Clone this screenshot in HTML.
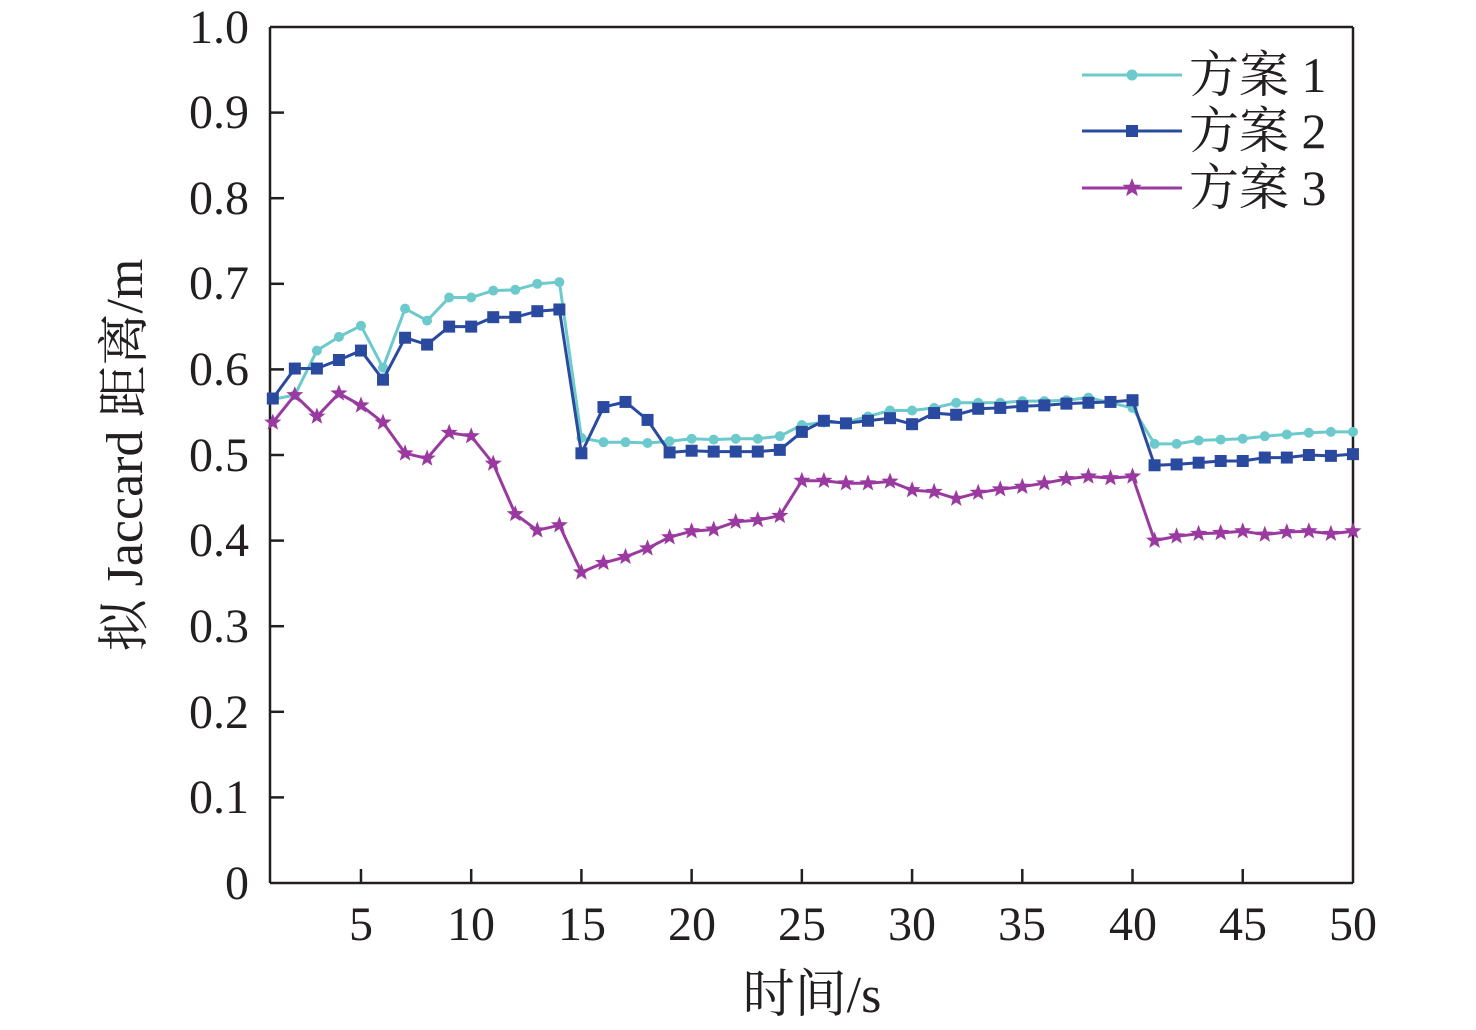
<!DOCTYPE html>
<html><head><meta charset="utf-8"><style>
html,body{margin:0;padding:0;background:#fff;}
svg{display:block;}
text{font-family:"Liberation Serif","Noto Serif CJK SC",serif;fill:#231f20;}
</style></head><body>
<svg id="s" width="1476" height="1030" xmlns="http://www.w3.org/2000/svg">
<rect x="0" y="0" width="1476" height="1030" fill="#fff"/>
<g font-size="48" text-anchor="end">
<text x="249" y="43">1.0</text>
<text x="249" y="128">0.9</text>
<text x="249" y="214">0.8</text>
<text x="249" y="299">0.7</text>
<text x="249" y="385">0.6</text>
<text x="249" y="471">0.5</text>
<text x="249" y="556">0.4</text>
<text x="249" y="642">0.3</text>
<text x="249" y="728">0.2</text>
<text x="249" y="813">0.1</text>
<text x="249" y="899">0</text>
</g>
<g font-size="48" text-anchor="middle">
<text x="361" y="940">5</text>
<text x="471" y="940">10</text>
<text x="582" y="940">15</text>
<text x="692" y="940">20</text>
<text x="802" y="940">25</text>
<text x="912" y="940">30</text>
<text x="1022" y="940">35</text>
<text x="1133" y="940">40</text>
<text x="1243" y="940">45</text>
<text x="1353" y="940">50</text>
</g>
<g font-size="52" text-anchor="middle">
<text x="812" y="1012">时间/s</text>
<text transform="translate(142,455) rotate(-90)">拟 Jaccard 距离/m</text>
</g>
<g id="ax" stroke="#231f20" stroke-width="2.5" fill="none"></g>
<g id="data"></g>
<g font-size="50">
<line x1="1082" y1="75" x2="1182" y2="75" stroke="#6cc9cc" stroke-width="3"/>
<circle cx="1132" cy="75" r="5.5" fill="#6cc9cc"/>
<text x="1189" y="92">方案 1</text>
<line x1="1082" y1="131" x2="1182" y2="131" stroke="#2a4aa0" stroke-width="3"/>
<rect x="1126" y="125" width="12" height="12" fill="#2a4aa0"/>
<text x="1189" y="148">方案 2</text>
<line x1="1082" y1="188" x2="1182" y2="188" stroke="#9a3aa0" stroke-width="3"/>
<polygon id="legstar" fill="#9a3aa0"/>
<text x="1189" y="205">方案 3</text>
</g>
</svg>
<script>
var NS="http://www.w3.org/2000/svg";
function X(t){return 272.8+(t-1)*22.044;}
function Y(v){return 883-v*856;}
var ax=document.getElementById('ax');
function ln(x1,y1,x2,y2){var l=document.createElementNS(NS,'line');l.setAttribute('x1',x1);l.setAttribute('y1',y1);l.setAttribute('x2',x2);l.setAttribute('y2',y2);ax.appendChild(l);}
ln(270,27,270,883);ln(270,883,1353,883);ln(1353,27,1353,883);ln(270,27,1353,27);
for(var i=1;i<10;i++){var y=Y(i/10);ln(270,y,284,y);}
for(var t=5;t<=45;t+=5){ln(X(t),883,X(t),869);}
var s1=[0.565,0.57,0.622,0.638,0.651,0.602,0.671,0.657,0.684,0.684,0.692,0.693,0.700,0.702,0.52,0.515,0.515,0.514,0.516,0.519,0.518,0.519,0.519,0.522,0.535,0.538,0.538,0.545,0.552,0.552,0.555,0.561,0.561,0.561,0.563,0.563,0.564,0.567,0.561,0.555,0.513,0.513,0.517,0.518,0.519,0.522,0.524,0.526,0.527,0.527];
var s2=[0.566,0.601,0.601,0.611,0.622,0.588,0.637,0.629,0.650,0.650,0.661,0.661,0.668,0.670,0.502,0.556,0.562,0.541,0.503,0.505,0.504,0.504,0.504,0.506,0.527,0.540,0.537,0.540,0.543,0.536,0.549,0.547,0.554,0.555,0.557,0.558,0.560,0.561,0.562,0.564,0.488,0.489,0.491,0.493,0.493,0.497,0.497,0.500,0.499,0.501];
var s3=[0.538,0.570,0.545,0.572,0.558,0.538,0.502,0.496,0.526,0.522,0.490,0.431,0.412,0.418,0.363,0.374,0.381,0.391,0.404,0.411,0.413,0.422,0.424,0.429,0.470,0.470,0.467,0.467,0.469,0.459,0.457,0.449,0.456,0.460,0.463,0.467,0.472,0.475,0.473,0.475,0.400,0.405,0.408,0.409,0.411,0.407,0.410,0.411,0.408,0.411];
var g=document.getElementById('data');
function star(cx,cy,R){var p=[];for(var k=0;k<10;k++){var r=k%2?R*0.42:R;var a=-Math.PI/2+k*Math.PI/5;p.push((cx+r*Math.cos(a)).toFixed(1)+','+(cy+r*Math.sin(a)).toFixed(1));}return p.join(' ');}
function series(d,c,m){var pts=d.map(function(v,i){return X(i+1).toFixed(1)+','+Y(v).toFixed(1);}).join(' ');
var pl=document.createElementNS(NS,'polyline');pl.setAttribute('points',pts);pl.setAttribute('fill','none');pl.setAttribute('stroke',c);pl.setAttribute('stroke-width','3');g.appendChild(pl);
d.forEach(function(v,i){var x=X(i+1),y=Y(v),e;
if(m==0){e=document.createElementNS(NS,'circle');e.setAttribute('cx',x);e.setAttribute('cy',y);e.setAttribute('r',5);}
else if(m==1){e=document.createElementNS(NS,'rect');e.setAttribute('x',x-6);e.setAttribute('y',y-6);e.setAttribute('width',12);e.setAttribute('height',12);}
else{e=document.createElementNS(NS,'polygon');e.setAttribute('points',star(x,y,9));}
e.setAttribute('fill',c);g.appendChild(e);});}
series(s1,'#6cc9cc',0);series(s2,'#2a4aa0',1);series(s3,'#9a3aa0',2);
document.getElementById('legstar').setAttribute('points',star(1132,188,10));
</script>
</body></html>
